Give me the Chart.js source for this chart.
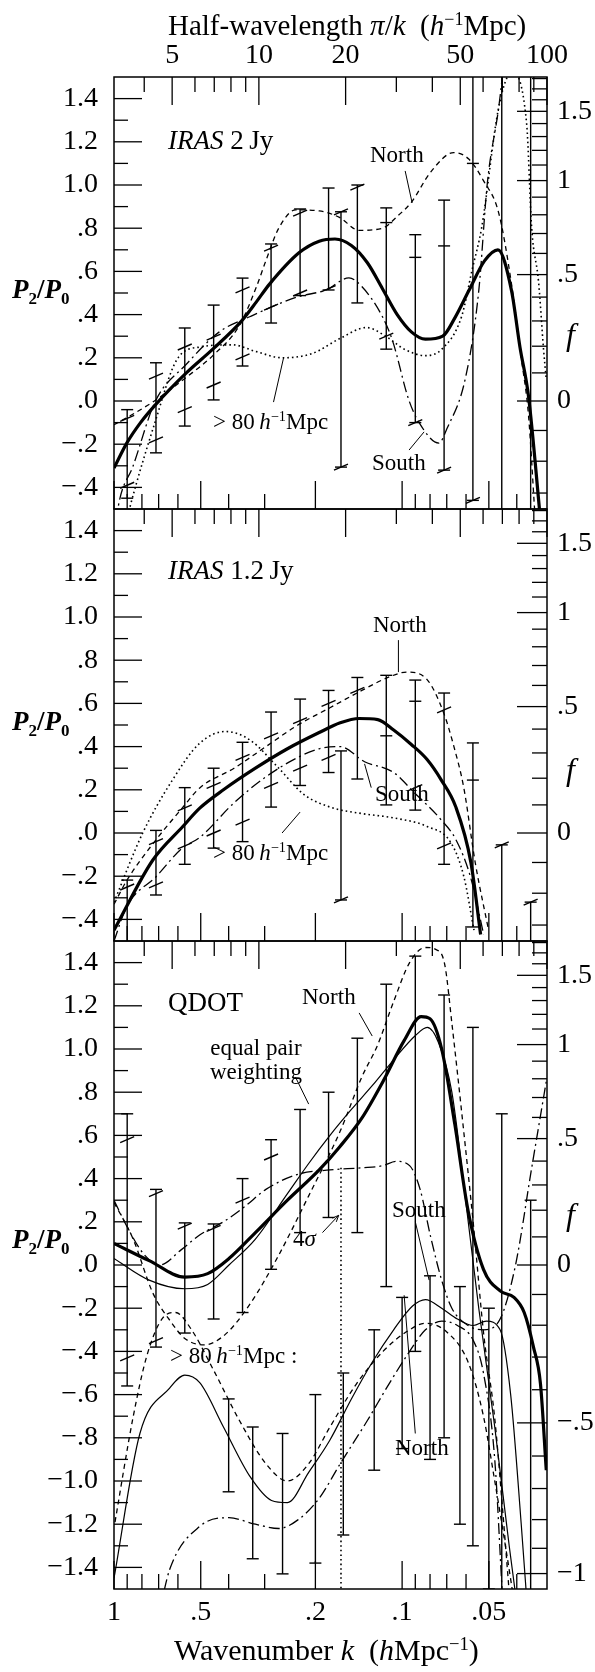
<!DOCTYPE html>
<html>
<head>
<meta charset="utf-8">
<title>Quadrupole to monopole ratio P2/P0</title>
<script src="https://cdn.jsdelivr.net/npm/chart.js@4.4.1/dist/chart.umd.min.js"></script>
<style>
  html, body { margin: 0; padding: 0; background: #fff; }
  body { position: relative; width: 595px; height: 1672px; overflow: hidden;
         font-family: "Liberation Serif", "Times New Roman", serif; color: #000; }
  canvas { position: absolute; left: 0; }
  .lbl { position: absolute; white-space: nowrap; line-height: 1; font-size: 23px; }
  .ax { font-size: 29px; }
  .axb { font-size: 30px; }
  .name { font-size: 27px; }
  .pp { font-size: 27px; font-weight: bold; }
  .pp sub { font-size: 17px; vertical-align: -6px; line-height: 0; }
  .ff { font-size: 32px; font-style: italic; }
  sup { font-size: 0.62em; vertical-align: 0.55em; line-height: 0; }
  .two { text-align: center; line-height: 24px; }
</style>
</head>
<body>
<canvas id="panel1" width="595" height="515" style="top:0px"></canvas>
<canvas id="panel2" width="595" height="444" style="top:503px"></canvas>
<canvas id="panel3" width="595" height="737" style="top:935px"></canvas>

<div class="lbl ax" style="left:168px;top:11px">Half-wavelength <i>π</i>/<i>k</i>&nbsp;&nbsp;(<i>h</i><sup>−1</sup>Mpc)</div>
<div class="lbl axb" style="left:174px;top:1635px">Wavenumber <i>k</i>&nbsp;&nbsp;(<i>h</i>Mpc<sup>−1</sup>)</div>

<div class="lbl pp" style="left:12px;top:276px"><i>P</i><sub>2</sub>/<i>P</i><sub>0</sub></div>
<div class="lbl pp" style="left:12px;top:708px"><i>P</i><sub>2</sub>/<i>P</i><sub>0</sub></div>
<div class="lbl pp" style="left:12px;top:1226px"><i>P</i><sub>2</sub>/<i>P</i><sub>0</sub></div>
<div class="lbl ff" style="left:566px;top:318px">f</div>
<div class="lbl ff" style="left:566px;top:753px">f</div>
<div class="lbl ff" style="left:566px;top:1198px">f</div>

<div class="lbl name" style="left:168px;top:127px"><i>IRAS</i> 2&#8201;Jy</div>
<div class="lbl name" style="left:168px;top:557px"><i>IRAS</i> 1.2&#8201;Jy</div>
<div class="lbl name" style="left:168px;top:989px">QDOT</div>

<div class="lbl" style="left:370px;top:143px">North</div>
<div class="lbl" style="left:213px;top:410px">&gt; 80&#8201;<i>h</i><sup>−1</sup>Mpc</div>
<div class="lbl" style="left:372px;top:451px">South</div>

<div class="lbl" style="left:373px;top:613px">North</div>
<div class="lbl" style="left:375px;top:782px">South</div>
<div class="lbl" style="left:213px;top:841px">&gt; 80&#8201;<i>h</i><sup>−1</sup>Mpc</div>

<div class="lbl" style="left:302px;top:985px">North</div>
<div class="lbl two" style="left:210px;top:1036px">equal pair<br>weighting</div>
<div class="lbl" style="left:392px;top:1198px">South</div>
<div class="lbl" style="left:293px;top:1227px">4<i>σ</i></div>
<div class="lbl" style="left:170px;top:1344px">&gt; 80&#8201;<i>h</i><sup>−1</sup>Mpc :</div>
<div class="lbl" style="left:395px;top:1436px">North</div>

<script>
// ---- axis ticks ----
const kMajor = [1, 0.5, 0.2, 0.1, 0.05];
const kLabels = ['1', '.5', '.2', '.1', '.05'];
const kMinor = [0.9, 0.8, 0.7, 0.6, 0.4, 0.3, 0.09, 0.08, 0.07, 0.06, 0.04];
const lamMajor = [5, 10, 20, 50, 100];
const lamLabels = ['5', '10', '20', '50', '100'];
const lamMinor = [4, 6, 7, 8, 9, 30, 40, 60, 70, 80, 90];
const pMajorTop = [-0.4, -0.2, 0, 0.2, 0.4, 0.6, 0.8, 1.0, 1.2, 1.4];
const pMinorTop = [-0.3, -0.1, 0.1, 0.3, 0.5, 0.7, 0.9, 1.1, 1.3];
const pMajorBot = [-1.4, -1.2, -1.0, -0.8, -0.6, -0.4, -0.2, 0, 0.2, 0.4, 0.6, 0.8, 1.0, 1.2, 1.4];
const pMinorBot = [-1.3, -1.1, -0.9, -0.7, -0.5, -0.3, -0.1, 0.1, 0.3, 0.5, 0.7, 0.9, 1.1, 1.3];
const fMajor = [-1, -0.5, 0, 0.5, 1, 1.5];
const fLabels = ['\u22121', '\u2212.5', '0', '.5', '1', '1.5'];
const fMinor = [-1.2, -1.1, -0.9, -0.8, -0.7, -0.6, -0.4, -0.3, -0.2, -0.1, 0.1, 0.2, 0.3, 0.4,
                0.6, 0.7, 0.8, 0.9, 1.1, 1.2, 1.3, 1.4, 1.6, 1.7, 1.8, 1.9];

// ---- panel 1: IRAS 2 Jy ----
const p1ThickK = [1.0, 0.903, 0.809, 0.721, 0.561, 0.454, 0.361, 0.320, 0.289, 0.228, 0.194, 0.171, 0.150, 0.132, 0.117, 0.104, 0.0929, 0.0830, 0.0723, 0.0656, 0.0587, 0.0517, 0.0465, 0.0417, 0.0390, 0.0364, 0.0331];
const p1ThickV = [-0.31, -0.195, -0.10, -0.02, 0.13, 0.24, 0.37, 0.46, 0.54, 0.686, 0.74, 0.75, 0.72, 0.64, 0.52, 0.40, 0.32, 0.286, 0.30, 0.385, 0.51, 0.65, 0.70, 0.51, 0.25, 0.02, -0.55];
const p1NorthK = [1.0, 0.858, 0.724, 0.561, 0.454, 0.367, 0.320, 0.297, 0.268, 0.234, 0.194, 0.165, 0.141, 0.117, 0.103, 0.0929, 0.0796, 0.0662, 0.0587, 0.0522, 0.0462, 0.0417, 0.0386, 0.0364, 0.0347];
const p1NorthV = [-0.11, -0.06, 0.0, 0.11, 0.21, 0.35, 0.53, 0.65, 0.80, 0.885, 0.88, 0.85, 0.79, 0.80, 0.86, 0.92, 1.06, 1.15, 1.12, 1.02, 0.87, 0.54, 0.20, -0.07, -0.5];
const p1SouthK = [1.0, 0.967, 0.858, 0.718, 0.561, 0.431, 0.338, 0.233, 0.183, 0.153, 0.138, 0.117, 0.108, 0.0948, 0.0873, 0.0745, 0.0700, 0.0602, 0.0542, 0.0506, 0.0462, 0.0436, 0.0386];
const p1SouthV = [-0.65, -0.49, -0.30, 0.0, 0.17, 0.32, 0.39, 0.48, 0.515, 0.57, 0.53, 0.39, 0.28, 0.005, -0.10, -0.195, -0.13, 0.11, 0.51, 1.01, 1.36, 1.65, 2.2];
const p1DotK = [1.0, 0.88, 0.721, 0.606, 0.504, 0.388, 0.323, 0.260, 0.205, 0.164, 0.133, 0.114, 0.0983, 0.0830, 0.0728, 0.0622, 0.0571, 0.0530, 0.0462, 0.0417, 0.0370, 0.0355, 0.0336, 0.0323, 0.0316];
const p1DotV = [-0.8, -0.49, -0.10, 0.19, 0.25, 0.26, 0.23, 0.20, 0.22, 0.29, 0.34, 0.30, 0.24, 0.21, 0.24, 0.39, 0.61, 0.80, 1.36, 1.52, 1.29, 0.80, 0.55, 0.24, 0.10];
const p1BarK = [0.9, 0.715, 0.568, 0.451, 0.358, 0.285, 0.226, 0.180, 0.163, 0.143, 0.1135, 0.090, 0.0715, 0.0568, 0.0451, 0.0358];
const p1BarLo = [-0.45, -0.24, -0.116, 0.005, 0.162, 0.361, 0.488, 0.514, -0.306, 0.454, 0.24, -0.10, -0.32, -0.46, -0.6, -0.6];
const p1BarHi = [-0.04, 0.177, 0.338, 0.444, 0.569, 0.727, 0.889, 0.986, 0.876, 1.0, 0.894, 0.77, 0.93, 1.6, 1.6, 1.6];
const p1SlantA = [-0.08, 0.115, 0.25, 0.296, 0.514, 0.708, 0.87, 0.52, 0.876, 0.99, 0.30, -0.10, -0.32, -0.46, null, null];
const p1SlantB = [-0.39, -0.18, -0.04, 0.074, 0.204, 0.435, 0.50, null, -0.306, null, null, null, null, null, null, null];
const p1FlatA = [null, null, null, null, null, null, null, null, null, null, 0.826, 0.665, 0.718, 1.10, null, null];

// ---- panel 2: IRAS 1.2 Jy ----
const p2ThickK = [1.0, 0.733, 0.577, 0.504, 0.417, 0.323, 0.250, 0.194, 0.164, 0.141, 0.1215, 0.107, 0.0929, 0.0819, 0.0731, 0.0651, 0.0577, 0.0534];
const p2ThickV = [-0.45, -0.125, 0.03, 0.115, 0.20, 0.30, 0.39, 0.465, 0.51, 0.53, 0.525, 0.477, 0.41, 0.34, 0.245, 0.12, -0.137, -0.47];
const p2NorthK = [1.0, 0.903, 0.733, 0.580, 0.503, 0.383, 0.297, 0.230, 0.178, 0.138, 0.112, 0.0962, 0.0819, 0.0717, 0.0661, 0.0611, 0.0557, 0.0501];
const p2NorthV = [-0.33, -0.22, -0.05, 0.115, 0.21, 0.30, 0.40, 0.50, 0.58, 0.66, 0.72, 0.745, 0.71, 0.555, 0.40, 0.21, -0.14, -0.45];
const p2SouthK = [1.0, 0.903, 0.712, 0.580, 0.503, 0.383, 0.297, 0.230, 0.194, 0.164, 0.135, 0.107, 0.0912, 0.0731, 0.0651, 0.0580, 0.0521];
const p2SouthV = [-0.50, -0.34, -0.20, -0.07, -0.02, 0.14, 0.26, 0.35, 0.39, 0.40, 0.33, 0.28, 0.19, 0.06, -0.03, -0.20, -0.47];
const p2DotK = [1.0, 0.795, 0.627, 0.504, 0.410, 0.337, 0.268, 0.220, 0.178, 0.138, 0.107, 0.0819, 0.0677, 0.0611, 0.0563];
const p2DotV = [-0.32, 0.0, 0.245, 0.416, 0.47, 0.43, 0.30, 0.18, 0.12, 0.09, 0.07, 0.03, -0.045, -0.20, -0.45];
const p2BarK = [0.9, 0.715, 0.568, 0.451, 0.358, 0.285, 0.226, 0.180, 0.163, 0.143, 0.1135, 0.090, 0.0715, 0.0568, 0.0451, 0.0358];
const p2BarLo = [-0.55, -0.287, -0.145, -0.07, -0.04, 0.12, 0.22, 0.28, -0.31, 0.25, 0.13, 0.106, -0.145, -0.435, -0.6, -0.6];
const p2BarHi = [-0.218, 0.012, 0.21, 0.30, 0.42, 0.56, 0.62, 0.66, 0.38, 0.72, 0.73, 0.708, 0.648, 0.417, -0.055, -0.32];
const p2SlantA = [-0.25, -0.04, 0.116, 0.22, 0.35, 0.45, 0.52, 0.60, -0.31, 0.66, null, 0.21, 0.57, null, -0.055, -0.32];
const p2SlantB = [null, -0.24, -0.06, 0.0, 0.05, 0.22, 0.30, 0.35, null, null, null, null, -0.06, null, null, null];
const p2FlatA = [null, null, null, null, null, null, null, null, null, null, 0.45, 0.61, null, 0.245, null, null];

// ---- panel 3: QDOT ----
const p3ThickK = [1.0, 0.755, 0.568, 0.473, 0.399, 0.323, 0.250, 0.194, 0.164, 0.138, 0.1165, 0.0983, 0.0859, 0.0800, 0.0729, 0.0656, 0.0590, 0.0522, 0.0457, 0.0409, 0.0377, 0.0350, 0.0331, 0.0316];
const p3ThickV = [0.10, 0.02, -0.056, -0.04, 0.03, 0.15, 0.30, 0.44, 0.55, 0.68, 0.85, 1.04, 1.15, 1.14, 1.00, 0.65, 0.25, -0.02, -0.12, -0.15, -0.22, -0.38, -0.55, -0.95];
const p3EqualK = [1.0, 0.755, 0.568, 0.473, 0.399, 0.323, 0.250, 0.211, 0.178, 0.150, 0.127, 0.107, 0.0903, 0.0818, 0.0748, 0.0672, 0.0602, 0.0542, 0.0477, 0.0425, 0.0397];
const p3EqualV = [0.03, -0.07, -0.11, -0.09, 0.0, 0.12, 0.33, 0.47, 0.60, 0.72, 0.83, 0.95, 1.06, 1.10, 1.03, 0.80, 0.30, -0.20, -0.75, -1.3, -1.6];
const p3NorthK = [1.0, 0.858, 0.733, 0.637, 0.568, 0.486, 0.410, 0.337, 0.272, 0.211, 0.164, 0.138, 0.1215, 0.107, 0.0942, 0.0830, 0.0762, 0.0711, 0.0672, 0.0617, 0.0565, 0.0522, 0.0477, 0.0450, 0.0420];
const p3NorthV = [0.29, 0.12, -0.13, -0.26, -0.34, -0.37, -0.32, -0.18, 0.03, 0.32, 0.62, 0.87, 1.02, 1.22, 1.40, 1.47, 1.46, 1.39, 1.12, 0.67, 0.18, -0.31, -0.71, -1.1, -1.6];
const p3SouthK = [1.0, 0.895, 0.788, 0.694, 0.585, 0.503, 0.417, 0.352, 0.297, 0.230, 0.178, 0.138, 0.1165, 0.105, 0.0942, 0.0866, 0.0796, 0.0729, 0.0672, 0.0590, 0.0522, 0.0457, 0.0404, 0.0355, 0.0316];
const p3SouthV = [0.30, 0.17, 0.05, 0.0, 0.07, 0.14, 0.20, 0.27, 0.35, 0.42, 0.44, 0.45, 0.46, 0.48, 0.46, 0.35, 0.13, -0.07, -0.20, -0.28, -0.30, -0.25, 0.0, 0.45, 0.85];
const p3FarThinK = [1.0, 0.813, 0.641, 0.568, 0.504, 0.417, 0.337, 0.284, 0.250, 0.211, 0.178, 0.150, 0.127, 0.107, 0.0920, 0.0830, 0.0729, 0.0643, 0.0566, 0.0510, 0.0457, 0.0420, 0.0386, 0.0367];
const p3FarThinV = [-1.45, -0.78, -0.57, -0.51, -0.545, -0.75, -0.98, -1.09, -1.10, -0.96, -0.81, -0.62, -0.45, -0.30, -0.19, -0.16, -0.20, -0.25, -0.28, -0.26, -0.30, -0.6, -1.2, -1.6];
const p3FarDashK = [0.992, 0.860, 0.769, 0.677, 0.611, 0.538, 0.454, 0.367, 0.297, 0.250, 0.211, 0.178, 0.144, 0.1165, 0.0942, 0.0830, 0.0700, 0.0590, 0.0522, 0.0477, 0.0438, 0.0404];
const p3FarDashV = [-1.19, -0.71, -0.42, -0.245, -0.22, -0.30, -0.48, -0.72, -0.92, -1.0, -0.92, -0.75, -0.55, -0.40, -0.30, -0.27, -0.31, -0.45, -0.7, -1.0, -1.3, -1.6];
const p3FarDotDashK = [0.694, 0.641, 0.504, 0.399, 0.323, 0.268, 0.230, 0.194, 0.164, 0.132, 0.111, 0.0942, 0.0830, 0.0729, 0.0643, 0.0566, 0.0522, 0.0477, 0.0450];
const p3FarDotDashV = [-1.6, -1.41, -1.21, -1.17, -1.2, -1.22, -1.18, -1.08, -0.92, -0.72, -0.55, -0.40, -0.30, -0.26, -0.28, -0.35, -0.5, -0.9, -1.5];
const p3SigmaK = [0.163, 0.163];
const p3SigmaV = [0.45, -1.5];
const p3BarK = [0.9, 0.715, 0.568, 0.451, 0.358, 0.285, 0.226, 0.180, 0.143, 0.1135, 0.090, 0.0715, 0.0568, 0.0451, 0.0358];
const p3BarLo = [-0.56, -0.38, -0.315, -0.25, -0.22, -0.02, 0.15, 0.22, 0.15, -0.1, -0.4, -0.8, -1.3, -1.6, -1.6];
const p3BarHi = [0.70, 0.35, 0.195, 0.19, 0.40, 0.58, 0.72, 0.80, 1.05, 1.30, 1.43, 1.25, 1.10, 0.70, 0.30];
const p3SlantA = [0.58, 0.33, 0.18, 0.17, 0.30, 0.50, null, null, null, null, null, null, null, null, null];
const p3SlantB = [-0.43, -0.35, null, null, null, null, null, null, null, null, null, null, null, null, null];
const p3LowK = [0.40, 0.33, 0.26, 0.20, 0.16, 0.125, 0.10, 0.08, 0.063, 0.05];
const p3LowLo = [-1.05, -1.36, -1.43, -1.38, -1.25, -0.95, -0.85, -0.9, -1.2, -1.5];
const p3LowHi = [-0.62, -0.75, -0.78, -0.6, -0.5, -0.3, -0.15, -0.05, -0.1, -0.2];

// ---- helpers ----
Chart.defaults.font.family = '"Liberation Serif", "Times New Roman", serif';
Chart.defaults.font.size = 28;
Chart.defaults.color = '#000';

const K_LEFT = 1, K_RIGHT = Math.PI / 100;   // half-wavelength 3.14 .. 100 h^-1 Mpc
// linear-theory relation between f (beta) and P2/P0, used for the right-hand axis
const kaiser = f => (4 / 3 * f + 4 / 7 * f * f) / (1 + 2 / 3 * f + f * f / 5);

const STYLE = {
  thick: { borderWidth: 3.2, borderDash: [] },
  thin: { borderWidth: 1.2, borderDash: [] },
  north: { borderWidth: 1.3, borderDash: [5, 4] },
  south: { borderWidth: 1.3, borderDash: [11, 4, 2, 4] },
  dotted: { borderWidth: 1.6, borderDash: [1.6, 3] }
};

function curve(ks, vs, style) {
  return Object.assign({
    data: ks.map((k, i) => ({ x: k, y: vs[i] })),
    borderColor: '#000', pointRadius: 0, fill: false,
    cubicInterpolationMode: 'monotone', borderCapStyle: 'butt'
  }, STYLE[style]);
}

function fmtP(v) {
  const a = Math.abs(v);
  let s = a >= 0.999 ? a.toFixed(1) : '.' + Math.round(a * 10);
  return v < -1e-9 ? '\u2212' + s : s;
}

// the layout must not reserve room for half-labels sticking out of the axes
function noOverflow(s) {
  s.paddingTop = 0; s.paddingBottom = 0; s.paddingLeft = 0; s.paddingRight = 0;
}

function panelPlugin(p) {
  const seg = (ctx, x1, y1, x2, y2) => { ctx.beginPath(); ctx.moveTo(x1, y1); ctx.lineTo(x2, y2); ctx.stroke(); };
  return {
    id: 'panelDecor',
    afterDatasetsDraw(chart) {
      const { ctx, chartArea: a, scales: { x, y } } = chart;
      ctx.save();
      ctx.beginPath();
      ctx.rect(a.left, a.top, a.right - a.left, a.bottom - a.top);
      ctx.clip();
      ctx.strokeStyle = '#000';
      ctx.lineWidth = 1.4;
      p.bars.forEach(b => {
        b.k.forEach((k, i) => {
          const px = x.getPixelForValue(k);
          const yl = y.getPixelForValue(b.lo[i]), yh = y.getPixelForValue(b.hi[i]);
          seg(ctx, px, yl, px, yh);
          seg(ctx, px - 6, yl, px + 6, yl);
          seg(ctx, px - 6, yh, px + 6, yh);
          [b.slantA, b.slantB].forEach(arr => {
            if (arr && arr[i] != null) {
              const py = y.getPixelForValue(arr[i]);
              seg(ctx, px - 7, py + 3, px + 7, py - 3);
            }
          });
          if (b.flatA && b.flatA[i] != null) {
            const py = y.getPixelForValue(b.flatA[i]);
            seg(ctx, px - 6, py, px + 6, py);
          }
        });
      });
      ctx.lineWidth = 1;
      p.leaders.forEach(l => {
        seg(ctx, x.getPixelForValue(l[0]), y.getPixelForValue(l[1]), x.getPixelForValue(l[2]), y.getPixelForValue(l[3]));
      });
      (p.arrows || []).forEach(l => {
        const x1 = x.getPixelForValue(l[0]), y1 = y.getPixelForValue(l[1]);
        const x2 = x.getPixelForValue(l[2]), y2 = y.getPixelForValue(l[3]);
        seg(ctx, x1, y1, x2, y2);
        const ang = Math.atan2(y2 - y1, x2 - x1);
        ctx.beginPath();
        ctx.moveTo(x2, y2);
        ctx.lineTo(x2 - 7 * Math.cos(ang - 0.4), y2 - 7 * Math.sin(ang - 0.4));
        ctx.moveTo(x2, y2);
        ctx.lineTo(x2 - 7 * Math.cos(ang + 0.4), y2 - 7 * Math.sin(ang + 0.4));
        ctx.stroke();
      });
      ctx.restore();
    },
    afterDraw(chart) {
      const { ctx, chartArea: a, scales: { x, y } } = chart;
      ctx.save();
      ctx.strokeStyle = '#000';
      ctx.lineWidth = 1.5;
      ctx.strokeRect(a.left, a.top, a.right - a.left, a.bottom - a.top);
      ctx.lineWidth = 1.3;
      kMajor.forEach(k => { const px = x.getPixelForValue(k); seg(ctx, px, a.bottom, px, a.bottom - 28); });
      kMinor.forEach(k => { const px = x.getPixelForValue(k); seg(ctx, px, a.bottom, px, a.bottom - 15); });
      lamMajor.forEach(l => { const px = x.getPixelForValue(Math.PI / l); seg(ctx, px, a.top, px, a.top + 28); });
      lamMinor.forEach(l => { const px = x.getPixelForValue(Math.PI / l); seg(ctx, px, a.top, px, a.top + 15); });
      p.pMajor.forEach(v => { const py = y.getPixelForValue(v); seg(ctx, a.left, py, a.left + 28, py); });
      p.pMinor.forEach(v => { const py = y.getPixelForValue(v); seg(ctx, a.left, py, a.left + 14, py); });
      const inRange = v => v > p.yMin && v < p.yMax;
      fMajor.forEach(f => { const v = kaiser(f); if (inRange(v)) { const py = y.getPixelForValue(v); seg(ctx, a.right - 30, py, a.right, py); } });
      fMinor.forEach(f => { const v = kaiser(f); if (inRange(v)) { const py = y.getPixelForValue(v); seg(ctx, a.right - 15, py, a.right, py); } });
      ctx.restore();
    }
  };
}

function makePanel(id, p) {
  const fShown = fMajor.filter(f => kaiser(f) > p.yMin && kaiser(f) < p.yMax);
  const hidden = { display: false };
  return new Chart(document.getElementById(id), {
    type: 'line',
    data: { datasets: p.datasets },
    options: {
      responsive: false,
      animation: false,
      devicePixelRatio: 1,
      layout: { padding: { top: p.padTop, bottom: p.padBottom, left: 0, right: 0 } },
      plugins: { legend: { display: false }, tooltip: { enabled: false } },
      scales: {
        x: p.showBottom ? {
          type: 'logarithmic', reverse: true, min: K_RIGHT, max: K_LEFT,
          grid: { display: false, drawTicks: false }, border: { display: false },
          afterBuildTicks: s => { s.ticks = kMajor.map(v => ({ value: v })); },
          afterFit: s => { s.height = 83; noOverflow(s); },
          ticks: { autoSkip: false, maxRotation: 0, padding: 7, callback: (v, i) => kLabels[i] }
        } : Object.assign({ type: 'logarithmic', reverse: true, min: K_RIGHT, max: K_LEFT }, hidden),
        xTop: p.showTop ? {
          type: 'logarithmic', position: 'top', min: Math.PI, max: 100,
          grid: { display: false, drawTicks: false }, border: { display: false },
          afterBuildTicks: s => { s.ticks = lamMajor.map(v => ({ value: v })); },
          afterFit: s => { s.height = 77; noOverflow(s); },
          ticks: { autoSkip: false, maxRotation: 0, padding: 5, callback: (v, i) => lamLabels[i] }
        } : Object.assign({ type: 'logarithmic', position: 'top', min: Math.PI, max: 100 }, hidden),
        y: {
          type: 'linear', position: 'left', min: p.yMin, max: p.yMax,
          grid: { display: false, drawTicks: false }, border: { display: false },
          afterBuildTicks: s => { s.ticks = p.pMajor.map(v => ({ value: v })); },
          afterFit: s => { s.width = 114; noOverflow(s); },
          ticks: { autoSkip: false, padding: 16, callback: v => fmtP(v) }
        },
        y2: {
          type: 'linear', position: 'right', min: p.yMin, max: p.yMax,
          grid: { display: false, drawTicks: false }, border: { display: false },
          afterBuildTicks: s => { s.ticks = fShown.map(f => ({ value: kaiser(f) })); },
          afterFit: s => { s.width = 48; noOverflow(s); },
          ticks: { autoSkip: false, padding: 10, callback: (v, i) => fLabels[fMajor.indexOf(fShown[i])] }
        }
      }
    },
    plugins: [panelPlugin(p)]
  });
}

makePanel('panel1', {
  yMin: -0.5, yMax: 1.5, pMajor: pMajorTop, pMinor: pMinorTop,
  padTop: 0, padBottom: 6, showTop: true, showBottom: false,
  datasets: [
    curve(p1DotK, p1DotV, 'dotted'),
    curve(p1SouthK, p1SouthV, 'south'),
    curve(p1NorthK, p1NorthV, 'north'),
    curve(p1ThickK, p1ThickV, 'thick')
  ],
  bars: [{ k: p1BarK, lo: p1BarLo, hi: p1BarHi, slantA: p1SlantA, slantB: p1SlantB, flatA: p1FlatA }],
  leaders: [[0.0976, 1.065, 0.0923, 0.917], [0.2795, -0.005, 0.258, 0.199], [0.0946, -0.227, 0.0839, -0.143]]
});

makePanel('panel2', {
  yMin: -0.5, yMax: 1.5, pMajor: pMajorTop, pMinor: pMinorTop,
  padTop: 6, padBottom: 6, showTop: false, showBottom: false,
  datasets: [
    curve(p2DotK, p2DotV, 'dotted'),
    curve(p2SouthK, p2SouthV, 'south'),
    curve(p2NorthK, p2NorthV, 'north'),
    curve(p2ThickK, p2ThickV, 'thick')
  ],
  bars: [{ k: p2BarK, lo: p2BarLo, hi: p2BarHi, slantA: p2SlantA, slantB: p2SlantB, flatA: p2FlatA }],
  leaders: [[0.103, 0.893, 0.103, 0.745], [0.128, 0.21, 0.135, 0.32], [0.261, 0.0, 0.226, 0.097]]
});

makePanel('panel3', {
  yMin: -1.5, yMax: 1.5, pMajor: pMajorBot, pMinor: pMinorBot,
  padTop: 6, padBottom: 0, showTop: false, showBottom: true,
  datasets: [
    curve(p3SigmaK, p3SigmaV, 'dotted'),
    curve(p3FarDotDashK, p3FarDotDashV, 'south'),
    curve(p3FarDashK, p3FarDashV, 'north'),
    curve(p3FarThinK, p3FarThinV, 'thin'),
    curve(p3SouthK, p3SouthV, 'south'),
    curve(p3NorthK, p3NorthV, 'north'),
    curve(p3EqualK, p3EqualV, 'thin'),
    curve(p3ThickK, p3ThickV, 'thick')
  ],
  bars: [
    { k: p3BarK, lo: p3BarLo, hi: p3BarHi, slantA: p3SlantA, slantB: p3SlantB },
    { k: p3LowK, lo: p3LowLo, hi: p3LowHi }
  ],
  leaders: [[0.141, 1.167, 0.127, 1.06], [0.2345, 0.87, 0.211, 0.745], [0.090, 0.20, 0.0806, -0.07], [0.090, -0.78, 0.0984, -0.14]],
  arrows: [[0.189, 0.15, 0.166, 0.23]]
});
</script>
</body>
</html>
